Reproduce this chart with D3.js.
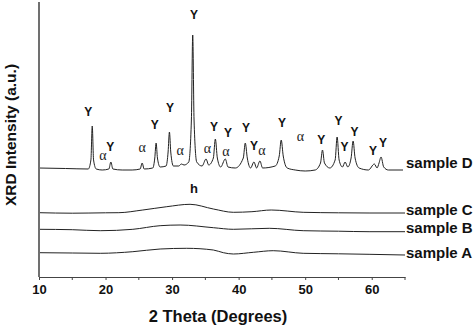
<!DOCTYPE html>
<html>
<head>
<meta charset="utf-8">
<script src="https://cdn.jsdelivr.net/npm/d3@7"></script>
<style>
  body { margin: 0; background: #fff; }
  svg text { font-family: "Liberation Sans", Arial, sans-serif; }
</style>
</head>
<body>
<div id="chart"></div>
<script>
// XRD patterns, offset vertically (arbitrary units)
const thetaD = [10, 14, 17.4, 17.8, 18.0, 18.2, 18.6, 19.5, 20.5, 20.8, 21.1, 22.5, 24, 25.2, 25.5, 25.8,
  27.1, 27.4, 27.6, 27.8, 28.2, 29.1, 29.4, 29.6, 29.8, 30.2, 31.0, 31.4, 31.8, 32.5, 32.9, 33.1, 33.3, 33.7,
  34.5, 35.1, 35.5, 36.2, 36.5, 36.8, 37.3, 38.0, 38.4, 39.5, 40.7, 41.0, 41.3, 41.8, 42.3, 42.7, 43.2, 43.6,
  45.5, 46.1, 46.4, 46.7, 47.3, 48.5, 50, 51.5, 52.3, 52.6, 52.9, 53.7, 54.5, 54.8, 55.1, 55.6, 56.0, 56.4,
  56.9, 57.2, 57.5, 58.1, 59.5, 60.4, 60.8, 61.1, 61.4, 61.8, 62.5, 64.7];
const intD = [109, 108.5, 108, 117, 151, 117, 108, 107, 108, 115, 108, 107, 107, 108, 114, 108,
  109, 119, 134, 119, 110, 111, 125, 145, 125, 111, 111, 113, 112, 115, 157, 242, 157, 115,
  111, 118, 112, 119, 138, 119, 110, 118, 110, 109, 119, 134, 119, 109, 115, 109, 116, 109,
  111, 121, 137, 121, 109, 107, 106, 107, 114, 127, 114, 109, 117, 140, 117, 110, 115, 110,
  119, 136, 119, 109, 107, 113, 109, 114, 120, 110, 107, 107];

const thetaC = [10, 15, 20, 22, 25.6, 29.2, 32.7, 36.2, 39.2, 42, 44.9, 49.7, 55, 59.6, 65];
const intC = [64.3, 63.8, 64.2, 64.3, 67, 70.3, 72.7, 68, 64.7, 65.3, 67, 64.7, 64.2, 64, 64];

const thetaB = [10, 15, 19.2, 24.1, 28.2, 31.2, 36.2, 39.2, 44.6, 49.7, 55, 59.6, 65];
const intB = [47.7, 47.3, 46.3, 47.7, 51.3, 52, 49.3, 47.7, 48.7, 46.3, 45.8, 45.3, 45.3];

const thetaA = [10, 15, 19.2, 24.1, 28.2, 32.2, 36.2, 37.7, 39.2, 42.2, 45.2, 49.7, 55, 59.6, 65];
const intA = [24.3, 24, 23.7, 25.3, 28, 28.7, 27, 24.3, 23, 24.7, 26.3, 23.7, 23.2, 22.7, 22];

const sampleNames = ["sample D", "sample C", "sample B", "sample A"];
const sampleLabelY = [109, 62, 44, 19];

// phase marks on sample D: Y (yttria-like) and alpha
const markYTheta = [17.4, 20.7, 27.4, 29.7, 33.3, 36.3, 38.4, 41.1, 42.3, 46.5, 52.4, 55.0, 55.9, 57.4, 60.2, 61.7];
const markYInt = [165, 130, 152, 169, 262, 150, 144, 149, 131, 154, 137, 156, 130, 145, 126, 134];
const markATheta = [19.6, 25.5, 31.2, 35.3, 38.1, 43.5, 49.3];
const markAInt = [122, 130, 127, 129, 126, 127, 141];

const xTicks = [10, 20, 30, 40, 50, 60];
const xMinorTicks = [15, 25, 35, 45, 55, 65];

const width = 476, height = 327;
const margin = { top: 2, right: 71, bottom: 50, left: 39 };

const svg = d3.select("#chart").append("svg")
  .attr("width", width)
  .attr("height", height);

const x = d3.scaleLinear().domain([10, 65]).range([margin.left, width - margin.right]);
const y = d3.scaleLinear().domain([0, 275]).range([height - margin.bottom, margin.top]);

const line = d3.line()
  .x(d => x(d[0]))
  .y(d => y(d[1]))
  .curve(d3.curveMonotoneX);

const series = [
  d3.zip(thetaD, intD),
  d3.zip(thetaC, intC),
  d3.zip(thetaB, intB),
  d3.zip(thetaA, intA)
];

series.forEach(s => {
  svg.append("path")
    .datum(s)
    .attr("d", line)
    .attr("fill", "none")
    .attr("stroke", "#222")
    .attr("stroke-width", 1);
});

// sample labels
svg.selectAll(".sample-label")
  .data(sampleNames)
  .join("text")
  .attr("class", "sample-label")
  .attr("x", x(65) + 1)
  .attr("y", (d, i) => y(sampleLabelY[i]))
  .attr("font-size", "15px")
  .attr("font-weight", "bold")
  .attr("fill", "#111")
  .text(d => d);

// peak annotations
svg.selectAll(".mark-y")
  .data(markYTheta)
  .join("text")
  .attr("class", "mark-y")
  .attr("x", d => x(d))
  .attr("y", (d, i) => y(markYInt[i]))
  .attr("text-anchor", "middle")
  .attr("dominant-baseline", "central")
  .attr("font-size", "12px")
  .attr("font-weight", "bold")
  .attr("fill", "#111")
  .text("Y");

svg.selectAll(".mark-a")
  .data(markATheta)
  .join("text")
  .attr("class", "mark-a")
  .attr("x", d => x(d))
  .attr("y", (d, i) => y(markAInt[i]))
  .attr("text-anchor", "middle")
  .attr("dominant-baseline", "central")
  .style("font-family", "'Liberation Serif', 'Times New Roman', serif")
  .attr("font-size", "14px")
  .attr("fill", "#222")
  .text("α");

svg.append("text")
  .attr("x", x(33.3))
  .attr("y", y(89))
  .attr("text-anchor", "middle")
  .attr("dominant-baseline", "central")
  .attr("font-size", "13px")
  .attr("font-weight", "bold")
  .attr("fill", "#111")
  .text("h");

// axes
const xAxis = svg.append("g")
  .attr("transform", `translate(0,${height - margin.bottom})`)
  .call(d3.axisBottom(x).tickValues(xTicks).tickSize(3).tickSizeOuter(0).tickPadding(5));
xAxis.append("g")
  .selectAll("line")
  .data(xMinorTicks)
  .join("line")
  .attr("x1", d => x(d)).attr("x2", d => x(d))
  .attr("y1", 0).attr("y2", 3)
  .attr("stroke", "#444");
xAxis.select(".domain").attr("stroke", "#444").attr("stroke-width", 1.2);
xAxis.selectAll(".tick line").attr("stroke", "#444");
xAxis.selectAll("text")
  .attr("font-size", "13px")
  .attr("font-weight", "bold")
  .attr("fill", "#111")
  .style("font-family", "'Liberation Sans', Arial, sans-serif");

svg.append("line")
  .attr("x1", x(10)).attr("x2", x(10))
  .attr("y1", y(275)).attr("y2", y(0))
  .attr("stroke", "#707070")
  .attr("stroke-width", 2);

// axis titles
svg.append("text")
  .attr("x", 218)
  .attr("y", 322)
  .attr("text-anchor", "middle")
  .attr("font-size", "16.5px")
  .attr("font-weight", "bold")
  .attr("fill", "#111")
  .text("2 Theta (Degrees)");

svg.append("text")
  .attr("transform", "translate(16,135) rotate(-90)")
  .attr("text-anchor", "middle")
  .attr("font-size", "15.5px")
  .attr("font-weight", "bold")
  .attr("fill", "#111")
  .text("XRD Intensity (a.u.)");
</script>
</body>
</html>
